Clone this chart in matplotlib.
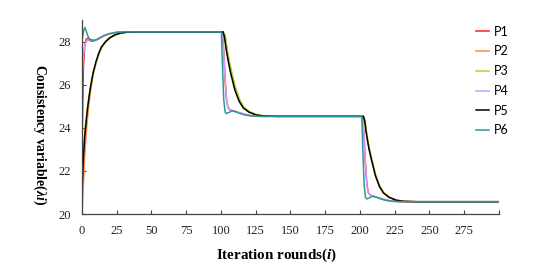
import matplotlib
matplotlib.use("Agg")
from matplotlib import pyplot as plt

plt.rcParams['mathtext.fontset'] = 'custom'
plt.rcParams['mathtext.it'] = 'Liberation Serif:italic:bold'
plt.rcParams['mathtext.rm'] = 'Liberation Serif:bold'

# iteration knots and values, per series
p1_iter = [0, 1, 2, 3, 4, 6, 8, 10, 13, 16, 20, 25, 30, 100.5,
           101, 102, 103, 104, 105, 106.5, 110.5, 115.5, 120.5, 128.5]
p1_val = [23.0, 26.8, 27.8, 28.1, 28.15, 28.1, 28.06, 28.07, 28.17, 28.28, 28.37, 28.43, 28.45, 28.45,
          28.45, 27.5, 26.2, 25.3, 24.95, 24.83, 24.75, 24.65, 24.57, 24.53]
p1_iter += [201.5, 202, 203, 204, 205, 206, 207.5, 211.5, 216.5, 221.5, 229.5, 300]
p1_val += [24.53, 24.53, 23.55, 22.25, 21.35, 20.99, 20.87, 20.79, 20.69, 20.61, 20.57, 20.57]

p2_iter = [0, 1, 2, 3, 4, 5, 6, 7, 8, 10, 12, 14, 17, 20, 24, 28, 33, 40, 101,
           101.5, 103, 104, 105, 106, 107.5, 110.5, 113.5, 116.5, 120.5, 125.5, 130.5, 140.5]
p2_val = [20.0, 21.4, 22.7, 23.7, 24.45, 25.1, 25.6, 26.05, 26.45, 26.98, 27.4, 27.72, 27.99, 28.16, 28.31, 28.39, 28.44, 28.45, 28.45,
          28.45, 28.24, 27.78, 27.38, 27.03, 26.57, 25.79, 25.26, 24.94, 24.74, 24.61, 24.55, 24.53]
p2_iter += [201.5, 202.5, 203.5, 204.5, 205.5, 206.5, 208, 211, 214, 217, 221, 226, 231, 241, 300]
p2_val += [24.53, 24.53, 24.31, 23.81, 23.41, 23.05, 22.61, 21.82, 21.29, 20.98, 20.78, 20.65, 20.59, 20.57, 20.57]

p3_iter = [0, 1, 2, 3, 4, 5, 6, 7, 8, 10, 12, 14, 17, 20, 24, 28, 33, 40, 101,
           101.5, 103, 104, 105, 106, 107.5, 110.5, 113.5, 116.5, 120.5, 125.5, 130.5, 140.5]
p3_val = [22.0, 23.0, 23.8, 24.4, 24.95, 25.4, 25.8, 26.15, 26.5, 27.0, 27.4, 27.7, 27.98, 28.15, 28.3, 28.39, 28.44, 28.45, 28.45,
          28.45, 28.3, 27.85, 27.45, 27.1, 26.65, 25.85, 25.3, 24.96, 24.75, 24.61, 24.55, 24.53]
p3_iter += [201.5, 202.5, 203.5, 204.5, 205.5, 206.5, 208, 211, 214, 217, 221, 226, 231, 241, 300]
p3_val += [24.53, 24.53, 24.38, 23.9, 23.5, 23.13, 22.7, 21.9, 21.34, 21.0, 20.79, 20.65, 20.59, 20.57, 20.57]

p4_iter = [0, 1, 2, 3, 4, 6, 8, 10, 13, 16, 20, 25, 30, 100.5,
           101, 102, 103, 104, 105, 106.5, 110.5, 115.5, 120.5, 128.5]
p4_val = [26.3, 27.3, 27.8, 28.0, 28.05, 28.05, 28.03, 28.06, 28.16, 28.27, 28.36, 28.42, 28.45, 28.45,
          28.45, 27.5, 26.2, 25.3, 24.95, 24.83, 24.75, 24.65, 24.57, 24.53]
p4_iter += [201.5, 202, 203, 204, 205, 206, 207.5, 211.5, 216.5, 221.5, 229.5, 300]
p4_val += [24.53, 24.53, 23.55, 22.25, 21.35, 20.99, 20.87, 20.79, 20.69, 20.61, 20.57, 20.57]

p5_iter = [0, 1, 2, 3, 4, 5, 6, 7, 8, 10, 12, 14, 17, 20, 24, 28, 33, 40, 101,
           101.5, 102.5, 103.5, 104.5, 105.5, 107, 110, 113, 116, 120, 125, 130, 140]
p5_val = [21.0, 22.6, 23.6, 24.3, 24.9, 25.4, 25.85, 26.2, 26.55, 27.05, 27.45, 27.75, 28.0, 28.18, 28.32, 28.4, 28.44, 28.45, 28.45,
          28.45, 28.21, 27.74, 27.35, 27.0, 26.53, 25.75, 25.24, 24.92, 24.73, 24.6, 24.55, 24.53]
p5_iter += [201.5, 202.5, 203.5, 204.5, 205.5, 206.5, 208, 211, 214, 217, 221, 226, 231, 241, 300]
p5_val += [24.53, 24.53, 24.29, 23.78, 23.38, 23.02, 22.59, 21.8, 21.28, 20.97, 20.77, 20.64, 20.59, 20.57, 20.57]

p6_iter = [0, 1, 2, 3, 4, 5, 6, 7, 9, 12, 15, 19, 24, 30, 100,
           100.3, 101, 102, 103, 104, 106, 108, 110, 113, 117, 122, 130]
p6_val = [28.0, 28.45, 28.65, 28.5, 28.3, 28.15, 28.05, 28.01, 28.04, 28.14, 28.25, 28.35, 28.42, 28.45, 28.45,
          28.45, 27.0, 25.3, 24.72, 24.66, 24.72, 24.78, 24.76, 24.68, 24.6, 24.55, 24.53]
p6_iter += [201, 201.3, 202, 203, 204, 205, 207, 209, 211, 214, 218, 223, 231, 300]
p6_val += [24.53, 24.53, 23.05, 21.35, 20.76, 20.7, 20.76, 20.82, 20.8, 20.72, 20.64, 20.59, 20.57, 20.57]

names = ['P1', 'P2', 'P3', 'P4', 'P5', 'P6']
colors = ['#ff2020', '#ff8c42', '#b4d22a', '#cc99ff', '#000000', '#2a9a9a']
x_ticks = [0, 25, 50, 75, 100, 125, 150, 175, 200, 225, 250, 275, 300]
y_ticks = [20, 22, 24, 26, 28]

fig = plt.figure(figsize=(5.6, 2.77), dpi=100)
ax = fig.add_axes([0.1464, 0.2274, 0.7446, 0.7004])

series = [(p1_iter, p1_val), (p2_iter, p2_val), (p3_iter, p3_val),
          (p4_iter, p4_val), (p5_iter, p5_val), (p6_iter, p6_val)]
for (xs, ys), name, c in zip(series, names, colors):
    ax.plot(xs, ys, color=c, lw=1.1, label=name)

ax.set_xlim(0, 300)
ax.set_ylim(20, 29)
ax.set_xticks(x_ticks)
ax.set_xticklabels([str(t) for t in x_ticks[:-1]] + [''])
ax.set_yticks(y_ticks)
for s in ['top', 'right']:
    ax.spines[s].set_visible(False)
for s in ['left', 'bottom']:
    ax.spines[s].set_color('#444444')
    ax.spines[s].set_linewidth(0.9)
ax.tick_params(direction='in', length=3, width=0.8, color='#444444', pad=8)
for lab in ax.get_xticklabels() + ax.get_yticklabels():
    lab.set_fontfamily('Liberation Serif')
    lab.set_fontsize(9)
    lab.set_color('#222222')

fig.text(0.493, 0.078, r'Iteration rounds($i$)', ha='center', va='center',
         fontfamily='Liberation Serif', fontweight='bold', fontsize=10.8)
fig.text(0.071, 0.513, r'Consistency variable($\lambda i$)', ha='center', va='center',
         rotation=270, fontfamily='Liberation Serif', fontweight='bold', fontsize=9.8)

leg = ax.legend(loc='upper left', bbox_to_anchor=(0.838, 0.93), bbox_transform=fig.transFigure,
                frameon=False, prop={'family': 'Lato', 'size': 9}, handlelength=1.1,
                handletextpad=0.35, labelspacing=0.62, borderpad=0)

fig.savefig('out.png', dpi=100)
